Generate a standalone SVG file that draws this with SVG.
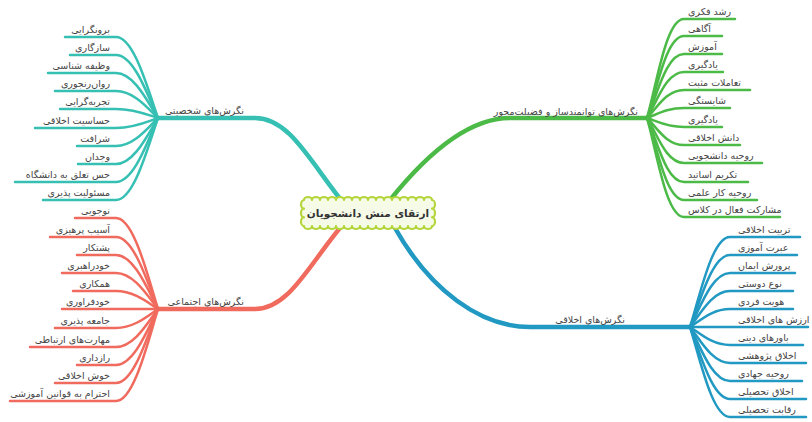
<svg xmlns="http://www.w3.org/2000/svg" width="812" height="422" viewBox="0 0 812 422">
<style>
.t{font-family:"DejaVu Sans","Noto Sans",sans-serif;font-size:9.5px;fill:#444}
.l{text-anchor:end}
.r{text-anchor:start}
.ln{fill:none;stroke-linecap:round;stroke-width:2.5}
.mn{fill:none;stroke-linecap:round;stroke-width:4.5}
.teal{stroke:#35c0b3}.red{stroke:#f06a5d}.green{stroke:#4cba47}.blue{stroke:#2199c2}
</style>
<rect width="812" height="422" fill="#ffffff"/>
<g id="connectors">
<path class="mn teal" d="M158 118 H255 C290 118 310 162 345 205"/>
<path class="mn red" d="M158 309 H255 C290 309 310 262 345 222"/>
<path class="mn green" d="M647 118 H510 C470 118 430 150 390 200"/>
<path class="mn blue" d="M690 327 H530 C480 327 430 290 395 228"/>
<g class="ln teal">
<path d="M65 37 H116 C134 37 148 89.6 158 118"/>
<path d="M70 55 H116 C134 55 148 96 158 118"/>
<path d="M48 73 H116 C134 73 148 102.3 158 118"/>
<path d="M55 91 H116 C134 91 148 108.5 158 118"/>
<path d="M60 109 H116 C134 109 148 114.8 158 118"/>
<path d="M35 128 H116 C134 128 148 121.5 158 118"/>
<path d="M77 146 H116 C134 146 148 127.8 158 118"/>
<path d="M78 164 H116 C134 164 148 134.1 158 118"/>
<path d="M15 182 H116 C134 182 148 140.4 158 118"/>
<path d="M43 200 H116 C134 200 148 146.7 158 118"/>
</g>
<g class="ln red">
<path d="M75 218 H116 C134 218 148 277.2 158 309"/>
<path d="M50 237 H116 C134 237 148 283.8 158 309"/>
<path d="M77 255 H116 C134 255 148 290.1 158 309"/>
<path d="M62 273 H116 C134 273 148 296.4 158 309"/>
<path d="M73 291 H116 C134 291 148 302.7 158 309"/>
<path d="M62 309 H158"/>
<path d="M55 328 H116 C134 328 148 315.7 158 309"/>
<path d="M30 347 H116 C134 347 148 322.3 158 309"/>
<path d="M77 365 H116 C134 365 148 328.6 158 309"/>
<path d="M55 383 H116 C134 383 148 334.9 158 309"/>
<path d="M10 401 H116 C134 401 148 341.2 158 309"/>
</g>
<g class="ln green">
<path d="M647 118 C657 83.4 666 19 684 19 H735"/>
<path d="M647 118 C657 89.3 666 36 684 36 H722"/>
<path d="M647 118 C657 95.6 666 54 684 54 H722"/>
<path d="M647 118 C657 101.9 666 72 684 72 H723"/>
<path d="M647 118 C657 108.2 666 90 684 90 H750"/>
<path d="M647 118 C657 114.5 666 108 684 108 H730"/>
<path d="M647 118 C657 121.2 666 127 684 127 H722"/>
<path d="M647 118 C657 127.5 666 145 684 145 H740"/>
<path d="M647 118 C657 133.8 666 163 684 163 H762"/>
<path d="M647 118 C657 140.4 666 182 684 182 H748"/>
<path d="M647 118 C657 146.7 666 200 684 200 H757"/>
<path d="M647 118 C657 152.7 666 217 684 217 H780"/>
</g>
<g class="ln blue">
<path d="M690 327 C700 295.5 712 237 730 237 H800"/>
<path d="M690 327 C700 301.8 712 255 730 255 H797"/>
<path d="M690 327 C700 308.1 712 273 730 273 H795"/>
<path d="M690 327 C700 314.4 712 291 730 291 H793"/>
<path d="M690 327 C700 320.7 712 309 730 309 H793"/>
<path d="M690 327 H808"/>
<path d="M690 327 C700 333.3 712 345 730 345 H803"/>
<path d="M690 327 C700 339.6 712 363 730 363 H806"/>
<path d="M690 327 C700 345.9 712 381 730 381 H802"/>
<path d="M690 327 C700 352.2 712 399 730 399 H806"/>
<path d="M690 327 C700 358.5 712 417 730 417 H806"/>
</g>
</g>
<g id="center">
<path d="M304 200 a4 3 0 0 1 8 0 a4 3 0 0 1 8 0 a4 3 0 0 1 8 0 a4 3 0 0 1 8 0 a4 3 0 0 1 8 0 a4 3 0 0 1 8 0 a4 3 0 0 1 8 0 a4 3 0 0 1 8 0 a4 3 0 0 1 8 0 a4 3 0 0 1 8 0 a4 3 0 0 1 8 0 a4 3 0 0 1 8 0 a4 3 0 0 1 8 0 a4 3 0 0 1 8 0 a4 3 0 0 1 8 0 a4 3 0 0 1 8 0 a3 4.33 0 0 1 0 8.67 a3 4.33 0 0 1 0 8.67 a3 4.33 0 0 1 0 8.66 a4 3 0 0 1 -8 0 a4 3 0 0 1 -8 0 a4 3 0 0 1 -8 0 a4 3 0 0 1 -8 0 a4 3 0 0 1 -8 0 a4 3 0 0 1 -8 0 a4 3 0 0 1 -8 0 a4 3 0 0 1 -8 0 a4 3 0 0 1 -8 0 a4 3 0 0 1 -8 0 a4 3 0 0 1 -8 0 a4 3 0 0 1 -8 0 a4 3 0 0 1 -8 0 a4 3 0 0 1 -8 0 a4 3 0 0 1 -8 0 a4 3 0 0 1 -8 0 a3 4.33 0 0 1 0 -8.67 a3 4.33 0 0 1 0 -8.67 a3 4.33 0 0 1 0 -8.66 Z" fill="#f6fbe8" stroke="#b4d63c" stroke-width="2.2" stroke-linejoin="round"/>
<text x="368" y="217" text-anchor="middle" style="font-family:'DejaVu Sans','Noto Sans',sans-serif;font-size:10.5px;font-weight:bold;fill:#333">ارتقای منش دانشجویان</text>
</g>
<g id="branch-personality">
<text class="t l" x="244" y="114">نگرش‌های شخصیتی</text>
<text class="t l" x="110" y="33">برونگرایی</text>
<text class="t l" x="110" y="51">سازگاری</text>
<text class="t l" x="110" y="69">وظیفه شناسی</text>
<text class="t l" x="110" y="87">روان‌رنجوری</text>
<text class="t l" x="110" y="105">تجربه‌گرایی</text>
<text class="t l" x="110" y="124">حساسیت اخلاقی</text>
<text class="t l" x="110" y="142">شرافت</text>
<text class="t l" x="110" y="160">وجدان</text>
<text class="t l" x="110" y="178">حس تعلق به دانشگاه</text>
<text class="t l" x="110" y="196">مسئولیت پذیری</text>
</g>
<g id="branch-social">
<text class="t l" x="244" y="305">نگرش‌های اجتماعی</text>
<text class="t l" x="110" y="214">نوجویی</text>
<text class="t l" x="110" y="233">آسیب پرهیزی</text>
<text class="t l" x="110" y="251">پشتکار</text>
<text class="t l" x="110" y="269">خودراهبری</text>
<text class="t l" x="110" y="287">همکاری</text>
<text class="t l" x="110" y="305">خودفراوری</text>
<text class="t l" x="110" y="324">جامعه پذیری</text>
<text class="t l" x="110" y="343">مهارت‌های ارتباطی</text>
<text class="t l" x="110" y="361">رازداری</text>
<text class="t l" x="110" y="379">خوش اخلاقی</text>
<text class="t l" x="110" y="397">احترام به قوانین آموزشی</text>
</g>
<g id="branch-empowering">
<text class="t l" x="638" y="115">نگرش‌های توانمندساز و فضیلت‌محور</text>
<text class="t r" x="688" y="15">رشد فکری</text>
<text class="t r" x="688" y="32">آگاهی</text>
<text class="t r" x="688" y="50">آموزش</text>
<text class="t r" x="688" y="68">یادگیری</text>
<text class="t r" x="688" y="86">تعاملات مثبت</text>
<text class="t r" x="688" y="104">شایستگی</text>
<text class="t r" x="688" y="123">یادگیری</text>
<text class="t r" x="688" y="141">دانش اخلاقی</text>
<text class="t r" x="688" y="159">روحیه دانشجویی</text>
<text class="t r" x="688" y="178">تکریم اساتید</text>
<text class="t r" x="688" y="196">روحیه کار علمی</text>
<text class="t r" x="688" y="213">مشارکت فعال در کلاس</text>
</g>
<g id="branch-ethical">
<text class="t l" x="625" y="323">نگرش‌های اخلاقی</text>
<text class="t r" x="738" y="233">تربیت اخلاقی</text>
<text class="t r" x="738" y="251">عبرت آموزی</text>
<text class="t r" x="738" y="269">پرورش ایمان</text>
<text class="t r" x="738" y="287">نوع دوستی</text>
<text class="t r" x="738" y="305">هویت فردی</text>
<text class="t r" x="738" y="323">ارزش های اخلاقی</text>
<text class="t r" x="738" y="341">باورهای دینی</text>
<text class="t r" x="738" y="359">اخلاق پژوهشی</text>
<text class="t r" x="738" y="377">روحیه جهادی</text>
<text class="t r" x="738" y="395">اخلاق تحصیلی</text>
<text class="t r" x="738" y="413">رقابت تحصیلی</text>
</g>
</svg>
